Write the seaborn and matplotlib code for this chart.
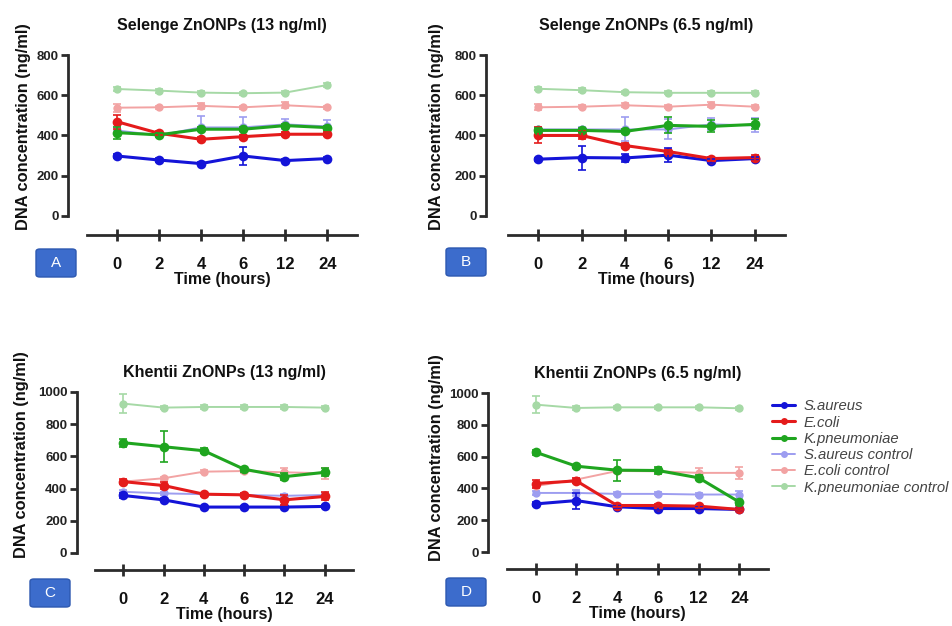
import matplotlib
matplotlib.use("Agg")
import matplotlib.pyplot as plt
from matplotlib.lines import Line2D
from matplotlib.patches import FancyBboxPatch
import seaborn as sns
import pandas as pd

times = ["0", "2", "4", "6", "12", "24"]
series = ["S.aureus", "E.coli", "K.pneumoniae",
          "S.aureus control", "E.coli control", "K.pneumoniae control"]
colors = ["#1414d8", "#e41b1b", "#1fa51f", "#9d9df0", "#f2a3a3", "#a6d9a6"]

# A: Selenge ZnONPs (13 ng/ml)
a_saureus = [298, 278, 260, 298, 275, 285]
a_ecoli = [469, 411, 381, 394, 406, 406]
a_kpneu = [414, 403, 431, 431, 449, 439]
a_saureus_ctrl = [425, 400, 440, 440, 455, 445]
a_ecoli_ctrl = [538, 540, 547, 540, 550, 540]
a_kpneu_ctrl = [631, 623, 613, 610, 613, 651]
a_saureus_sd = [8, 8, 8, 45, 8, 8]
a_ecoli_sd = [35, 10, 10, 10, 10, 10]
a_kpneu_sd = [30, 10, 10, 10, 10, 10]
a_saureus_ctrl_sd = [15, 10, 55, 50, 25, 30]
a_ecoli_ctrl_sd = [20, 8, 15, 8, 15, 8]
a_kpneu_ctrl_sd = [8, 10, 8, 8, 8, 8]

# B: Selenge ZnONPs (6.5 ng/ml)
b_saureus = [282, 290, 288, 302, 275, 285]
b_ecoli = [400, 400, 350, 320, 285, 290]
b_kpneu = [425, 425, 420, 450, 445, 455]
b_saureus_ctrl = [430, 430, 430, 430, 455, 450]
b_ecoli_ctrl = [540, 543, 550, 543, 553, 543]
b_kpneu_ctrl = [632, 625, 615, 612, 612, 612]
b_saureus_sd = [8, 60, 20, 35, 10, 8]
b_ecoli_sd = [40, 20, 10, 10, 10, 15]
b_kpneu_sd = [10, 10, 10, 40, 30, 25]
b_saureus_ctrl_sd = [10, 10, 60, 50, 30, 35]
b_ecoli_ctrl_sd = [15, 8, 10, 8, 12, 8]
b_kpneu_ctrl_sd = [8, 10, 8, 8, 8, 8]

# C: Khentii ZnONPs (13 ng/ml)
c_saureus = [357, 330, 285, 285, 285, 289]
c_ecoli = [443, 419, 365, 361, 330, 351]
c_kpneu = [685, 660, 635, 520, 474, 501]
c_saureus_ctrl = [380, 370, 365, 360, 355, 360]
c_ecoli_ctrl = [443, 464, 505, 509, 501, 495]
c_kpneu_ctrl = [928, 903, 907, 907, 907, 903]
c_saureus_sd = [15, 10, 8, 8, 8, 8]
c_ecoli_sd = [15, 20, 10, 10, 30, 25]
c_kpneu_sd = [25, 95, 15, 15, 20, 25]
c_saureus_ctrl_sd = [10, 10, 10, 10, 10, 10]
c_ecoli_ctrl_sd = [10, 10, 10, 10, 25, 35]
c_kpneu_ctrl_sd = [60, 10, 10, 10, 10, 10]

# D: Khentii ZnONPs (6.5 ng/ml)
d_saureus = [303, 324, 285, 274, 274, 268]
d_ecoli = [431, 448, 293, 293, 289, 268]
d_kpneu = [628, 540, 515, 513, 467, 314]
d_saureus_ctrl = [372, 372, 366, 366, 362, 362]
d_ecoli_ctrl = [415, 456, 510, 508, 498, 498]
d_kpneu_ctrl = [927, 906, 910, 910, 910, 904]
d_saureus_sd = [10, 50, 10, 10, 10, 10]
d_ecoli_sd = [25, 15, 10, 10, 10, 10]
d_kpneu_sd = [15, 10, 65, 25, 15, 15]
d_saureus_ctrl_sd = [10, 20, 10, 10, 10, 25]
d_ecoli_ctrl_sd = [10, 10, 10, 10, 30, 40]
d_kpneu_ctrl_sd = [55, 10, 10, 10, 10, 10]

sns.set_style("ticks")
plt.rcParams["font.family"] = ["Liberation Sans", "DejaVu Sans"]
plt.rcParams["font.weight"] = "bold"
plt.rcParams["axes.labelweight"] = "bold"
plt.rcParams["axes.titleweight"] = "bold"

W, H = 952, 626
fig = plt.figure(figsize=(W / 100, H / 100), dpi=100)
ink = "#2b2b2b"


def px_axes(left, right, top, bottom):
    return fig.add_axes([left / W, 1 - bottom / H, (right - left) / W, (bottom - top) / H])


def draw_panel(ax, means, sds, title, ytop, ybottom, spine_out, title_pad, label_xy):
    df = pd.DataFrame({
        "pos": [i for _ in series for i in range(len(times))],
        "value": [v for m in means for v in m],
        "series": [s for s in series for _ in times],
    })
    pal = dict(zip(series, colors))
    ctrl = df[df["series"].str.contains("control")]
    main = df[~df["series"].str.contains("control")]
    sns.lineplot(data=ctrl, x="pos", y="value", hue="series", palette=pal, ax=ax,
                 marker="o", markersize=6, markeredgewidth=0, linewidth=1.4,
                 legend=False, errorbar=None)
    sns.lineplot(data=main, x="pos", y="value", hue="series", palette=pal, ax=ax,
                 marker="o", markersize=7, markeredgewidth=0, linewidth=2.2,
                 legend=False, errorbar=None)
    for name, m, sd, c in zip(series, means, sds, colors):
        ax.errorbar(range(len(times)), m, yerr=sd, fmt="none", ecolor=c,
                    elinewidth=1.2, capsize=3, capthick=1.2,
                    zorder=1 if "control" in name else 3)
    ax.set_xlim(-0.7, 5.7)
    ax.set_ylim(ybottom, ytop)
    ax.set_yticks(range(0, ytop + 1, 200))
    ax.set_xticks(range(len(times)))
    ax.set_xticklabels(times)
    for s in ["top", "right"]:
        ax.spines[s].set_visible(False)
    ax.spines["left"].set_bounds(0, ytop)
    ax.spines["left"].set_position(("outward", spine_out))
    for s in ["left", "bottom"]:
        ax.spines[s].set_linewidth(2)
        ax.spines[s].set_color(ink)
    ax.tick_params(axis="y", direction="out", length=5, width=2, color=ink,
                   labelsize=9.5, pad=2, labelcolor="#222")
    ax.tick_params(axis="x", direction="inout", length=8, width=2, color=ink,
                   labelsize=12, pad=12, labelcolor="#111")
    ax.set_xlabel("Time (hours)", fontsize=11.5, labelpad=0, color="#111")
    ax.set_ylabel("DNA concentration (ng/ml)", fontsize=11.8, color="#111")
    ax.yaxis.set_label_coords(*label_xy)
    ax.set_title(title, fontsize=11.5, pad=title_pad, color="#111")


ax_a = px_axes(87, 357, 55, 235)
draw_panel(ax_a,
           [a_saureus, a_ecoli, a_kpneu, a_saureus_ctrl, a_ecoli_ctrl, a_kpneu_ctrl],
           [a_saureus_sd, a_ecoli_sd, a_kpneu_sd, a_saureus_ctrl_sd, a_ecoli_ctrl_sd, a_kpneu_ctrl_sd],
           "Selenge ZnONPs (13 ng/ml)", 800, -95, 13.5, 18, (-0.207, 0.605))

ax_b = px_axes(508, 785, 55, 235)
draw_panel(ax_b,
           [b_saureus, b_ecoli, b_kpneu, b_saureus_ctrl, b_ecoli_ctrl, b_kpneu_ctrl],
           [b_saureus_sd, b_ecoli_sd, b_kpneu_sd, b_saureus_ctrl_sd, b_ecoli_ctrl_sd, b_kpneu_ctrl_sd],
           "Selenge ZnONPs (6.5 ng/ml)", 800, -95, 15.5, 18, (-0.231, 0.6))

ax_c = px_axes(95, 353, 392, 570)
draw_panel(ax_c,
           [c_saureus, c_ecoli, c_kpneu, c_saureus_ctrl, c_ecoli_ctrl, c_kpneu_ctrl],
           [c_saureus_sd, c_ecoli_sd, c_kpneu_sd, c_saureus_ctrl_sd, c_ecoli_ctrl_sd, c_kpneu_ctrl_sd],
           "Khentii ZnONPs (13 ng/ml)", 1000, -106, 13, 11, (-0.255, 0.646))

ax_d = px_axes(507, 768, 393, 569)
draw_panel(ax_d,
           [d_saureus, d_ecoli, d_kpneu, d_saureus_ctrl, d_ecoli_ctrl, d_kpneu_ctrl],
           [d_saureus_sd, d_ecoli_sd, d_kpneu_sd, d_saureus_ctrl_sd, d_ecoli_ctrl_sd, d_kpneu_ctrl_sd],
           "Khentii ZnONPs (6.5 ng/ml)", 1000, -106, 13.5, 11, (-0.241, 0.636))

# panel letters in blue boxes
for letter, cx, cy in [("A", 56, 263), ("B", 466, 262), ("C", 50, 593), ("D", 466, 592)]:
    bw, bh = 40, 28
    box = FancyBboxPatch(((cx - bw / 2) / W, 1 - (cy + bh / 2) / H), bw / W, bh / H,
                         boxstyle="round,pad=0,rounding_size=0.004",
                         transform=fig.transFigure, facecolor="#3c6ccc",
                         edgecolor="#2d58b0", linewidth=1)
    fig.add_artist(box)
    fig.text(cx / W, 1 - cy / H, letter, color="white", fontsize=11,
             fontweight="normal", ha="center", va="center")

handles = [Line2D([0], [0], color=c, marker="o", markersize=5, markeredgewidth=0,
                  linewidth=2.2 if i < 3 else 1.4) for i, c in enumerate(colors)]
leg = fig.legend(handles, series, loc="upper left", bbox_to_anchor=(759 / W, 1 - 386 / H),
                 frameon=False, handlelength=1.5, handletextpad=0.6, labelspacing=0.15,
                 prop={"size": 10.7, "style": "italic", "weight": "normal"})
for t in leg.get_texts():
    t.set_color("#444444")

fig.savefig("out.png", dpi=100)
